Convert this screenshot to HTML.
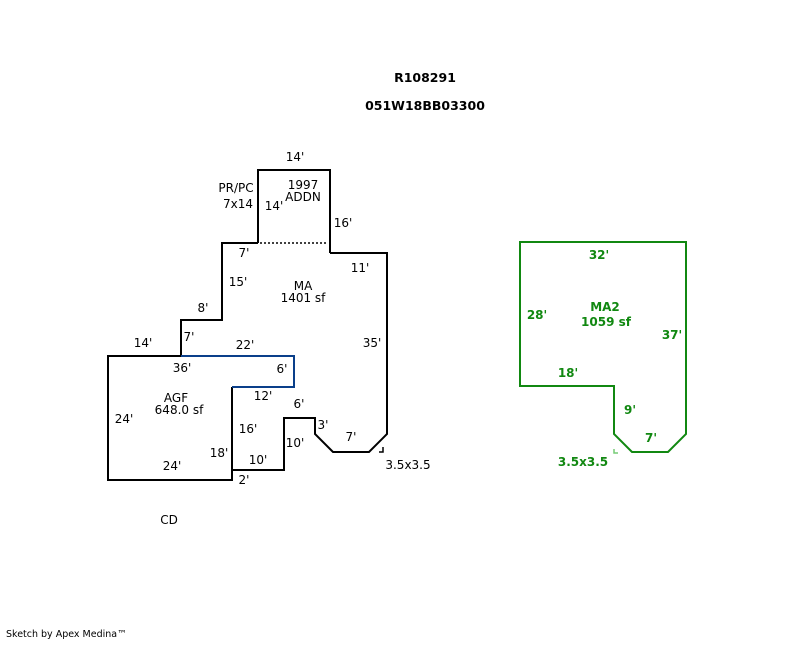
<!DOCTYPE html>
<html><head><meta charset="utf-8"><style>
body{margin:0;background:#fff;}
svg text{font-family:"DejaVu Sans","Liberation Sans",sans-serif;font-size:12px;fill:#000;}
.g{fill:#118811;font-weight:bold;}
</style></head><body>
<svg width="800" height="640" xmlns="http://www.w3.org/2000/svg">
<text x="425" y="82" text-anchor="middle" font-weight="bold" style="font-size:12.5px">R108291</text>
<text x="425" y="110" text-anchor="middle" font-weight="bold" style="font-size:12.5px">051W18BB03300</text>
<g fill="none" stroke="#000" stroke-width="2">
<polyline points="258,243 258,170 330,170 330,253"/>
<polyline points="330,253 387,253 387,434 369,452 333,452 315,434 315,418 284,418 284,470 232,470 232,480 108,480 108,356 181,356 181,320 222,320 222,243 258,243"/>
<line x1="232" y1="387" x2="232" y2="470"/>
<polyline points="383,447 383,452 379,452" stroke-width="1.5"/>
</g>
<line x1="260" y1="243" x2="328" y2="243" stroke="#000" stroke-width="1.5" stroke-dasharray="2,2"/>
<polyline points="181,356 294,356 294,387 232,387" fill="none" stroke="#0a3f8a" stroke-width="2"/>
<polygon points="520,242 686,242 686,434 668,452 632,452 614,434 614,386 520,386" fill="none" stroke="#118811" stroke-width="2"/>
<polyline points="614,449 614,453 618,453" fill="none" stroke="#7c7" stroke-width="1.5"/>
<text x="295" y="161" text-anchor="middle">14'</text>
<text x="236" y="192" text-anchor="middle">PR/PC</text>
<text x="238" y="208" text-anchor="middle">7x14</text>
<text x="303" y="189" text-anchor="middle">1997</text>
<text x="303" y="201" text-anchor="middle">ADDN</text>
<text x="274" y="210" text-anchor="middle">14'</text>
<text x="343" y="227" text-anchor="middle">16'</text>
<text x="244" y="257" text-anchor="middle">7'</text>
<text x="360" y="272" text-anchor="middle">11'</text>
<text x="303" y="290" text-anchor="middle">MA</text>
<text x="303" y="302" text-anchor="middle">1401 sf</text>
<text x="238" y="286" text-anchor="middle">15'</text>
<text x="203" y="312" text-anchor="middle">8'</text>
<text x="189" y="341" text-anchor="middle">7'</text>
<text x="143" y="347" text-anchor="middle">14'</text>
<text x="245" y="349" text-anchor="middle">22'</text>
<text x="372" y="347" text-anchor="middle">35'</text>
<text x="182" y="372" text-anchor="middle">36'</text>
<text x="282" y="373" text-anchor="middle">6'</text>
<text x="176" y="402" text-anchor="middle">AGF</text>
<text x="179" y="414" text-anchor="middle">648.0 sf</text>
<text x="263" y="400" text-anchor="middle">12'</text>
<text x="299" y="408" text-anchor="middle">6'</text>
<text x="124" y="423" text-anchor="middle">24'</text>
<text x="248" y="433" text-anchor="middle">16'</text>
<text x="323" y="429" text-anchor="middle">3'</text>
<text x="351" y="441" text-anchor="middle">7'</text>
<text x="295" y="447" text-anchor="middle">10'</text>
<text x="219" y="457" text-anchor="middle">18'</text>
<text x="258" y="464" text-anchor="middle">10'</text>
<text x="172" y="470" text-anchor="middle">24'</text>
<text x="244" y="484" text-anchor="middle">2'</text>
<text x="408" y="469" text-anchor="middle">3.5x3.5</text>
<text x="169" y="524" text-anchor="middle">CD</text>
<text x="599" y="259" text-anchor="middle" class="g">32'</text>
<text x="537" y="319" text-anchor="middle" class="g">28'</text>
<text x="605" y="311" text-anchor="middle" class="g">MA2</text>
<text x="606" y="326" text-anchor="middle" class="g">1059 sf</text>
<text x="672" y="339" text-anchor="middle" class="g">37'</text>
<text x="568" y="377" text-anchor="middle" class="g">18'</text>
<text x="630" y="414" text-anchor="middle" class="g">9'</text>
<text x="651" y="442" text-anchor="middle" class="g">7'</text>
<text x="583" y="466" text-anchor="middle" class="g">3.5x3.5</text>
<text x="6" y="637" style="font-size:9.5px">Sketch by Apex Medina™</text>
</svg>
</body></html>
